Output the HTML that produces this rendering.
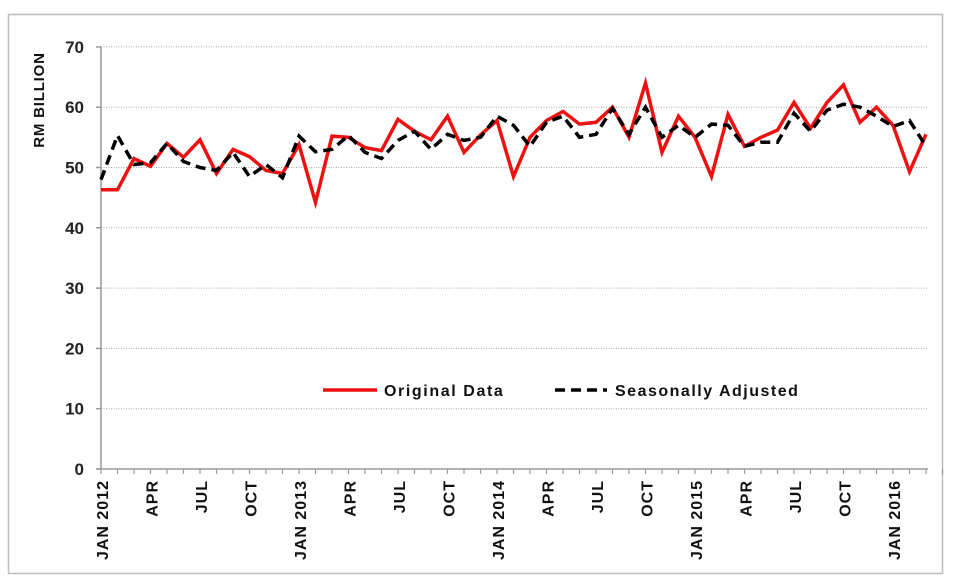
<!DOCTYPE html>
<html><head><meta charset="utf-8"><style>
html,body{margin:0;padding:0;background:#fff;}
svg{display:block;font-family:"Liberation Sans",Arial,sans-serif;}
</style></head><body>
<svg id="c" width="960" height="581" viewBox="0 0 960 581" xmlns="http://www.w3.org/2000/svg">
<rect x="8.5" y="14.5" width="934" height="559" fill="#fff" stroke="#bdbdbd" stroke-width="1.5"/>
<g id="grid"></g>
<line x1="101" y1="47" x2="101" y2="469" stroke="#999" stroke-width="1.5"/>
<line x1="97" y1="469" x2="928" y2="469" stroke="#999" stroke-width="1.5"/>
<g id="ticks"></g>
<g id="ylab" font-size="17" font-weight="bold" fill="#222" text-anchor="end"></g>
<text transform="translate(44,100) rotate(-90)" text-anchor="middle" font-size="15" font-weight="bold" fill="#111" letter-spacing="0.8">RM BILLION</text>
<g id="xlab" font-size="16" font-weight="bold" fill="#111" letter-spacing="1"></g>
<polyline id="red" fill="none" stroke="#ee1111" stroke-width="3.5" stroke-linejoin="miter"/>
<polyline id="blk" fill="none" stroke="#000" stroke-width="3.5" stroke-dasharray="10,6"/>
<line x1="323" y1="390" x2="377" y2="390" stroke="#ee1111" stroke-width="3.5"/>
<text x="384" y="396" font-size="16" font-weight="bold" fill="#111" letter-spacing="1.6">Original Data</text>
<line x1="555" y1="390" x2="607" y2="390" stroke="#000" stroke-width="3.5" stroke-dasharray="10,6"/>
<text x="615" y="396" font-size="16" font-weight="bold" fill="#111" letter-spacing="1.5">Seasonally Adjusted</text>
</svg>
<script>
var NS="http://www.w3.org/2000/svg";
function el(t,a,p,txt){var e=document.createElementNS(NS,t);for(var k in a)e.setAttribute(k,a[k]);if(txt)e.textContent=txt;document.getElementById(p).appendChild(e);return e;}
function Y(v){return 469-6.03*v;}
for(var v=10;v<=70;v+=10){el('line',{x1:101,x2:928,y1:Y(v),y2:Y(v),stroke:'#aaa','stroke-width':1,'stroke-dasharray':'1,1.5'},'grid');}
for(var v=0;v<=70;v+=10){el('line',{x1:96,x2:101,y1:Y(v),y2:Y(v),stroke:'#999','stroke-width':1.5},'ticks');el('text',{x:84,y:Y(v)+6},'ylab',String(v));}
var S=16.5,X0=101;
for(var i=0;i<=51;i++){el('line',{x1:X0+i*S,x2:X0+i*S,y1:469,y2:474,stroke:'#999','stroke-width':1.2},'ticks');}
var labs=['JAN 2012','APR','JUL','OCT'];
for(var i=0;i<51;i+=3){var m=i%12,yr=2012+Math.floor(i/12);var t=m==0?('JAN '+yr):labs[m/3];
var x=X0+i*S+7;el('text',{transform:'translate('+x+',480) rotate(-90)','text-anchor':'end'},'xlab',t);}
var red=[46.3,46.3,51.5,50.2,54,51.7,54.6,49,53,51.8,49.5,49,
53.8,44.2,55.2,55,53.3,52.8,58,56,54.6,58.5,52.5,55.4,
57.8,48.5,55,57.8,59.3,57.2,57.5,60,55,64,52.5,58.5,
55,48.5,58.8,53.5,55,56.2,60.8,56.5,60.8,63.7,57.5,60,
57,49.3,55.5];
var sa=[48,55.3,50.5,50.8,54,51,50,49.5,52.5,48.5,50.5,48.3,
55.2,52.6,53,55.3,52.5,51.5,54.5,56,53,55.5,54.5,55,
58.5,57,53.5,57.5,58.5,55,55.5,59.8,55.5,60,55,57,
55,57.2,57,53.5,54.2,54.2,59,56,59.5,60.5,60,58.5,
56.8,57.8,53.5];
function pts(a){return a.map(function(v,i){return (X0+i*S).toFixed(1)+','+Y(v).toFixed(1);}).join(' ');}
document.getElementById('red').setAttribute('points',pts(red));
document.getElementById('blk').setAttribute('points',pts(sa));
</script>
</body></html>
